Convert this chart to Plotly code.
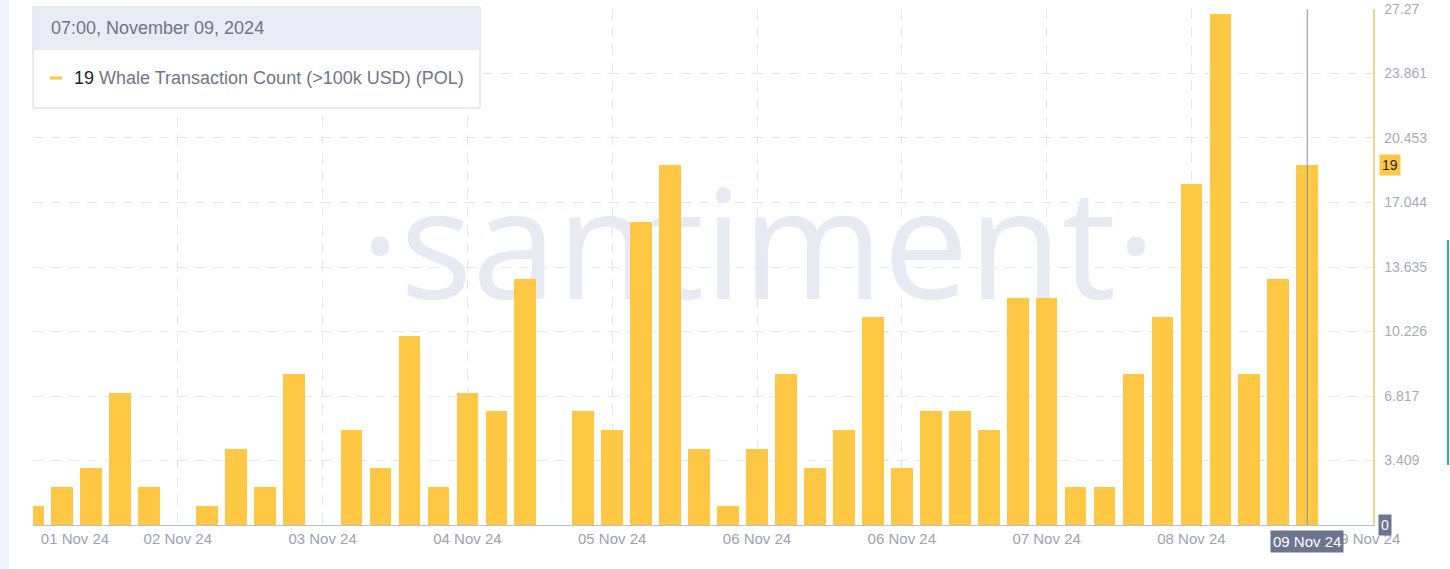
import plotly.graph_objects as go

# ---- data ----
bin_index = list(range(45))
whale_counts = [1, 2, 3, 7, 2, 0, 1, 4, 2, 8, 0, 5, 3, 10, 2, 7, 6, 13, 0, 6,
                5, 16, 19, 4, 1, 4, 8, 3, 5, 11, 3, 6, 6, 5, 12, 12, 2, 2, 8, 11,
                18, 27, 8, 13, 19]
x_tick_positions = [1.45, 5, 10, 15, 20, 25, 30, 35, 40, 46.03]
x_tick_labels = ["01 Nov 24", "02 Nov 24", "03 Nov 24", "04 Nov 24", "05 Nov 24",
                 "06 Nov 24", "06 Nov 24", "07 Nov 24", "08 Nov 24", "09 Nov 24"]
x_grid_positions = [0, 5, 10, 15, 20, 25, 30, 35, 40]
y_tick_values = [0, 3.409, 6.817, 10.226, 13.635, 17.044, 20.453, 23.861, 27.27]
y_tick_labels = ["", "3.409", "6.817", "10.226", "13.635", "17.044", "20.453", "23.861", "27.27"]
hover_index = 44
hover_value = 19
hover_date_label = "09 Nov 24"
header_text = "07:00, November 09, 2024"
series_name = "Whale Transaction Count (>100k USD) (POL)"

W, H = 1450, 569
L, R, T, B = 33, 77, 9, 44
PW, PH = W - L - R, H - T - B


def px_x(px):
    return (px - L) / PW


def px_y(py):
    return (H - B - py) / PH


FONT = "Liberation Sans, Arial, sans-serif"
BAR = "#FFC844"
GRID = "#e4e6eb"
BADGE = "#6b7590"

fig = go.Figure()

# watermark on the base subplot (below the bars)
fig.add_trace(go.Scatter(
    x=[px_x(758)], y=[px_y(261)], mode="text", text=["·santiment·"],
    textposition="middle center",
    textfont=dict(family="Open Sans, sans-serif", size=152, color="#e7e9f3"),
    xaxis="x", yaxis="y", hoverinfo="skip", showlegend=False))

# bars on the overlaid axes
fig.add_trace(go.Bar(
    x=bin_index, y=whale_counts, width=0.75, marker=dict(color=BAR, line=dict(width=0)),
    xaxis="x2", yaxis="y2", name=series_name, showlegend=False, hoverinfo="skip"))

fig.update_layout(
    width=W, height=H, margin=dict(l=L, r=R, t=T, b=B, autoexpand=False),
    paper_bgcolor="white", plot_bgcolor="white",
    font=dict(family=FONT),
    bargap=0, hovermode=False, dragmode=False,
    xaxis=dict(range=[0, 1], visible=False, fixedrange=True, automargin=False),
    yaxis=dict(range=[0, 1], visible=False, fixedrange=True, automargin=False),
    xaxis2=dict(
        overlaying="x", anchor="y2", side="bottom", automargin=False, fixedrange=True,
        range=[0, 46.27], showgrid=False, zeroline=False,
        tickmode="array", tickvals=x_tick_positions, ticktext=x_tick_labels,
        ticks="", tickfont=dict(size=15, color="#9ba3b4", family=FONT),
        showline=True, linecolor="#b3bfd6", linewidth=1,
        minor=dict(tickmode="array", tickvals=x_grid_positions, showgrid=True,
                   gridcolor=GRID, griddash="10px,8px", gridwidth=1, ticks=""),
    ),
    yaxis2=dict(
        overlaying="y", anchor="x2", side="right", automargin=False, fixedrange=True,
        range=[0, 27.27], zeroline=False,
        tickmode="array", tickvals=y_tick_values, ticktext=y_tick_labels,
        ticks="", ticklabelstandoff=7,
        tickfont=dict(size=14, color="#a5abb8", family=FONT),
        showgrid=True, gridcolor=GRID, griddash="10px,8px", gridwidth=1,
        showline=True, linecolor="#f2d488", linewidth=1.5,
    ),
)

shapes = []
# crosshair
shapes.append(dict(type="line", xref="x2", yref="paper", x0=hover_index, x1=hover_index,
                   y0=0, y1=1, line=dict(color="#8690a8", width=1)))
# left light strip
shapes.append(dict(type="rect", xref="paper", yref="paper", x0=px_x(0), x1=px_x(9),
                   y0=px_y(H), y1=px_y(0), line=dict(width=0), fillcolor="#f3f4f8", layer="below"))
# green edge marker on right
shapes.append(dict(type="line", xref="paper", yref="paper", x0=px_x(1448), x1=px_x(1448),
                   y0=px_y(465), y1=px_y(240), line=dict(color="#2ab68c", width=2)))
# tooltip box
shapes.append(dict(type="rect", xref="paper", yref="paper", x0=px_x(33), x1=px_x(480),
                   y0=px_y(108), y1=px_y(7), line=dict(color="#d3d7e0", width=1),
                   fillcolor="white"))
shapes.append(dict(type="rect", xref="paper", yref="paper", x0=px_x(33.5), x1=px_x(479.5),
                   y0=px_y(50), y1=px_y(7.5), line=dict(width=0), fillcolor="#e9ebf5"))
shapes.append(dict(type="line", xref="paper", yref="paper", x0=px_x(50), x1=px_x(62),
                   y0=px_y(78), y1=px_y(78), line=dict(color=BAR, width=3)))
fig.update_layout(shapes=shapes)

annotations = [
    dict(xref="paper", yref="paper", x=px_x(49), y=px_y(28), xanchor="left", yanchor="middle",
         text=header_text, showarrow=False, font=dict(size=18, color="#6f7585", family=FONT)),
    dict(xref="paper", yref="paper", x=px_x(72), y=px_y(78), xanchor="left", yanchor="middle",
         text=f"<span style='color:#1e1e1e'>{hover_value}</span> {series_name}",
         showarrow=False, font=dict(size=18, color="#707686", family=FONT)),
    dict(xref="paper", yref="y2", x=px_x(1379), y=hover_value, xanchor="left", yanchor="middle",
         text=str(hover_value), showarrow=False, bgcolor=BAR, borderpad=2,
         font=dict(size=14, color="#1e1e1e", family=FONT)),
    dict(xref="paper", yref="y2", x=px_x(1378), y=0, xanchor="left", yanchor="middle",
         text="0", showarrow=False, bgcolor=BADGE, borderpad=2,
         font=dict(size=14, color="white", family=FONT)),
    dict(xref="x2", yref="paper", x=hover_index, y=px_y(541), xanchor="center", yanchor="middle",
         text=hover_date_label, showarrow=False, bgcolor=BADGE, borderpad=2,
         font=dict(size=15, color="white", family=FONT)),
]
fig.update_layout(annotations=annotations)

fig.write_html("out.html", config={"displayModeBar": False, "staticPlot": True},
               post_script="document.body.style.margin='0';")
